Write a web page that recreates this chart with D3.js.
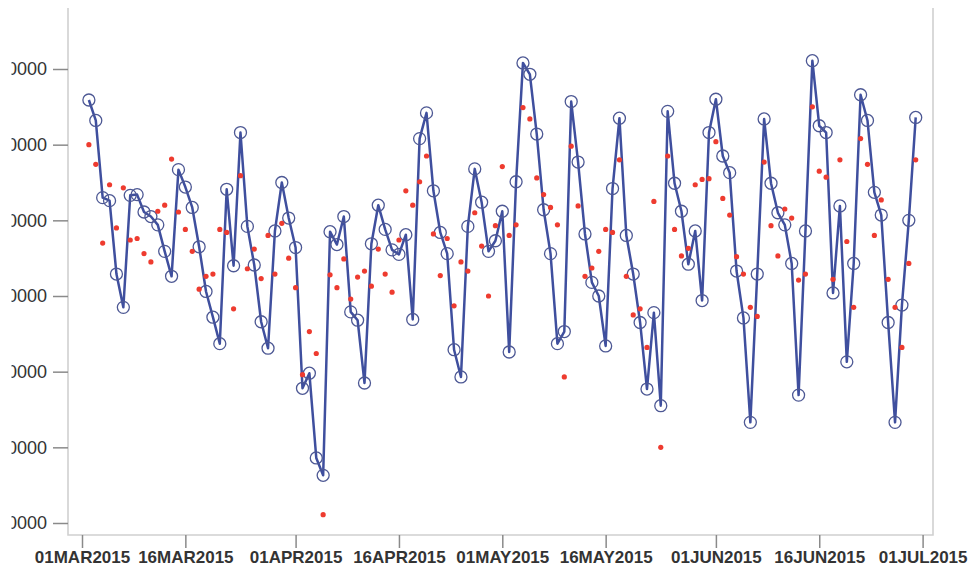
<!DOCTYPE html>
<html>
  <head>
    <title>Daily series with fitted values</title>
    <script src="https://cdn.jsdelivr.net/npm/d3@7"></script>
    <style>
      body { margin: 0; background: #fff; }
    </style>
  </head>
  <body>
    <div id="main"></div>
    <script>
      var WIDTH = 968, HEIGHT = 569; // page size

      // one value per day, 02MAR2015 .. 30JUN2015 (in thousands)
      var startDay = Date.UTC(2015, 2, 2); // 02MAR2015
      var actual = [
        659, 632, 530, 526, 429, 385, 533, 534, 511, 505,
        494, 459, 426, 567, 544, 517, 465, 406, 372, 337,
        541, 440, 616, 492, 441, 366, 331, 486, 550, 503,
        464, 278, 298, 186, 163, 485, 468, 505, 379, 368,
        285, 469, 520, 488, 461, 455, 481, 369, 608, 642,
        539, 484, 456, 329, 293, 492, 568, 524, 459, 473,
        512, 326, 551, 708, 693, 614, 514, 456, 337, 353,
        657, 577, 482, 418, 400, 334, 542, 635, 480, 429,
        365, 277, 378, 255, 644, 549, 512, 442, 486, 394,
        616, 660, 585, 563, 433, 371, 233, 429, 634, 549,
        510, 494, 443, 269, 486, 711, 625, 616, 404, 519,
        313, 443, 666, 632, 537, 507, 365, 233, 388, 500,
        636
      ];
      var predicted = [
        600, 574, 470, 547, 490, 543, 474, 476, 456, 445,
        512, 520, 581, 511, 488, 459, 409, 426, 429, 488,
        484, 383, 559, 436, 462, 423, 480, 429, 496, 450,
        411, 296, 353, 324, 111, 428, 411, 449, 396, 425,
        433, 413, 462, 429, 405, 474, 539, 520, 551, 585,
        482, 427, 476, 387, 445, 433, 510, 466, 400, 493,
        571, 480, 494, 649, 634, 556, 534, 517, 494, 293,
        598, 519, 426, 437, 459, 488, 484, 580, 426, 375,
        383, 332, 525, 200, 585, 488, 453, 463, 547, 554,
        555, 604, 529, 507, 452, 429, 385, 373, 577, 493,
        453, 515, 503, 421, 429, 650, 565, 557, 422, 580,
        472, 385, 608, 574, 480, 527, 422, 385, 332, 443,
        580
      ];
      var UNIT = 1000;

      var yTicks = [100000, 200000, 300000, 400000, 500000, 600000, 700000];
      var xTicks = [
        [2015, 2, 1], [2015, 2, 16], [2015, 3, 1], [2015, 3, 16], [2015, 4, 1],
        [2015, 4, 16], [2015, 5, 1], [2015, 5, 16], [2015, 6, 1]
      ];

      var rows = actual.map(function(v, i) {
        return { date: new Date(startDay + i * 864e5), actual: v * UNIT, predicted: predicted[i] * UNIT };
      });

      var svg = d3.select('#main').append('svg')
                  .attr('width', WIDTH).attr('height', HEIGHT)
                  .style('font-family', 'Arial, "Liberation Sans", sans-serif');

      var x = d3.scaleUtc()
                .domain([new Date(Date.UTC(2015, 2, 1)), new Date(Date.UTC(2015, 6, 1))])
                .range([82, 922.6]);
      var y = d3.scaleLinear().domain([100000, 700000]).range([523, 69]);

      var fLeft = 68, fRight = 933, fTop = 8, fBottom = 535;

      // frame (no top edge visible)
      svg.append('path')
        .attr('d', 'M' + fLeft + ',' + fTop + 'V' + fBottom + 'H' + fRight + 'V' + fTop)
        .attr('fill', 'none').attr('stroke', '#d0d0d0').attr('stroke-width', 1.6);

      // y axis: ticks only, labels drawn below in a clipped group
      var yAxis = d3.axisLeft(y).tickValues(yTicks).tickSize(15).tickFormat('');
      var gy = svg.append('g').attr('transform', 'translate(' + fLeft + ',0)').call(yAxis);
      gy.select('.domain').remove();
      gy.selectAll('.tick line').attr('stroke', '#8a8a8a').attr('stroke-width', 1.5);

      // the labels are cut at the left edge of the picture
      svg.append('clipPath').attr('id', 'ylabclip')
        .append('rect').attr('x', 11.5).attr('y', 0).attr('width', 60).attr('height', HEIGHT);
      svg.append('g').attr('clip-path', 'url(#ylabclip)')
        .selectAll('text').data(yTicks).enter().append('text')
          .attr('x', 47).attr('y', function(d) { return y(d); })
          .attr('dy', '0.35em').attr('text-anchor', 'end')
          .attr('fill', '#333').style('font-size', '18px')
          .text(d3.format('d'));

      var xAxis = d3.axisBottom(x)
                    .tickValues(xTicks.map(function(t) { return new Date(Date.UTC(t[0], t[1], t[2])); }))
                    .tickSize(13).tickPadding(3)
                    .tickFormat(function(d) { return d3.utcFormat('%d%b%Y')(d).toUpperCase(); });
      var gx = svg.append('g').attr('transform', 'translate(0,' + fBottom + ')').call(xAxis);
      gx.select('.domain').remove();
      gx.selectAll('.tick line').attr('stroke', '#8a8a8a').attr('stroke-width', 1.5);
      gx.selectAll('.tick text').attr('fill', '#333')
        .style('font-size', '17px').style('font-weight', 'bold');

      var line = d3.line()
                   .x(function(d) { return x(d.date); })
                   .y(function(d) { return y(d.actual); });

      svg.append('path').datum(rows)
        .attr('d', line)
        .attr('fill', 'none').attr('stroke', '#3f4f9e').attr('stroke-width', 2.5)
        .attr('stroke-linejoin', 'round');

      svg.selectAll('.obs').data(rows).enter().append('circle')
        .attr('class', 'obs')
        .attr('cx', function(d) { return x(d.date); })
        .attr('cy', function(d) { return y(d.actual); })
        .attr('r', 6)
        .attr('fill', 'none').attr('stroke', '#4d5894').attr('stroke-width', 1.3);

      svg.selectAll('.pred').data(rows).enter().append('circle')
        .attr('class', 'pred')
        .attr('cx', function(d) { return x(d.date); })
        .attr('cy', function(d) { return y(d.predicted); })
        .attr('r', 2.6)
        .attr('fill', '#ee3b2f');
    </script>
  </body>
</html>
